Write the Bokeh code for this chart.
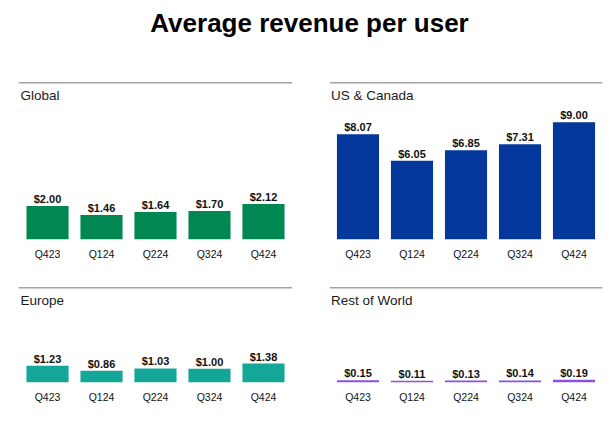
from bokeh.plotting import figure
from bokeh.models import Range1d, FactorRange, Span, Label, ColumnDataSource
from bokeh.layouts import column, row
from bokeh.embed import file_html
from bokeh.resources import INLINE
from bokeh.core.properties import value

# ---- data ----
quarters = ["Q423", "Q124", "Q224", "Q324", "Q424"]
global_arpu = [2.00, 1.46, 1.64, 1.70, 2.12]
us_canada_arpu = [8.07, 6.05, 6.85, 7.31, 9.00]
europe_arpu = [1.23, 0.86, 1.03, 1.00, 1.38]
rest_of_world_arpu = [0.15, 0.11, 0.13, 0.14, 0.19]

panel_names = ["Global", "US & Canada", "Europe", "Rest of World"]
panel_colors = ["#008752", "#03389A", "#14A797", "#8A4FE0"]
chart_title = "Average revenue per user"

FONT = "Liberation Sans"
TEXT = "#111111"


def panel(name, vals, color, width, height, bl, br, bt, bb, px_per_unit, pad):
    frame_h = height - bt - bb
    y_end = frame_h / px_per_unit
    p = figure(
        x_range=FactorRange(factors=quarters, range_padding=pad),
        y_range=Range1d(0, y_end),
        width=width, height=height,
        output_backend="svg", toolbar_location=None,
        y_axis_location=None,
        min_border_left=bl, min_border_right=br,
        min_border_top=bt, min_border_bottom=bb,
        outline_line_color=None,
        background_fill_color="white", border_fill_color="white",
    )
    p.xgrid.visible = False
    p.ygrid.visible = False
    src = ColumnDataSource(dict(q=quarters, v=vals, t=[f"${v:.2f}" for v in vals]))
    p.vbar(x="q", top="v", width=0.78, source=src, fill_color=color, line_color=None)
    p.text(x="q", y="v", text="t", source=src, text_align="center",
           text_baseline="bottom", y_offset=-1,
           text_font=value(FONT), text_font_style="bold",
           text_font_size="11px", text_color=TEXT)
    ax = p.xaxis[0]
    ax.axis_line_color = None
    ax.major_tick_line_color = None
    ax.minor_tick_line_color = None
    ax.major_tick_out = 0
    ax.major_tick_in = 0
    ax.major_label_standoff = 8
    ax.major_label_text_font = FONT
    ax.major_label_text_font_size = "10.5px"
    ax.major_label_text_color = TEXT
    p.add_layout(Span(location=y_end, dimension="width", line_color="#4a4a4a", line_width=1.3))
    p.add_layout(Label(x=0, y=y_end - 13 / px_per_unit, text=name,
                       text_font=FONT, text_font_size="13.5px", text_color="#1a1a1a",
                       text_baseline="alphabetic", text_align="left"))
    return p


title_fig = figure(width=610, height=68, output_backend="svg", toolbar_location=None,
                   x_axis_location=None, y_axis_location=None, min_border=0,
                   min_border_left=8,
                   outline_line_color=None, title=chart_title,
                   x_range=Range1d(0, 1), y_range=Range1d(0, 1))
title_fig.xgrid.visible = False
title_fig.ygrid.visible = False
title_fig.title.align = "center"
title_fig.title.text_font = FONT
title_fig.title.text_font_style = "bold"
title_fig.title.text_font_size = "26px"
title_fig.title.text_color = "#000000"

f1 = panel(panel_names[0], global_arpu, panel_colors[0], 318, 204, 18, 26, 14, 33, 16.7, 0.015)
f2 = panel(panel_names[1], us_canada_arpu, panel_colors[1], 287, 204, 11, 3, 14, 33, 13.03, 0.011)
f3 = panel(panel_names[2], europe_arpu, panel_colors[2], 318, 141, 18, 26, 15, 31, 13.7, 0.015)
f4 = panel(panel_names[3], rest_of_world_arpu, panel_colors[3], 287, 141, 11, 3, 15, 31, 15.0, 0.011)

layout = column(title_fig, row(f1, f2), row(f3, f4))

open("out.html", "w").write(file_html(layout, INLINE))
